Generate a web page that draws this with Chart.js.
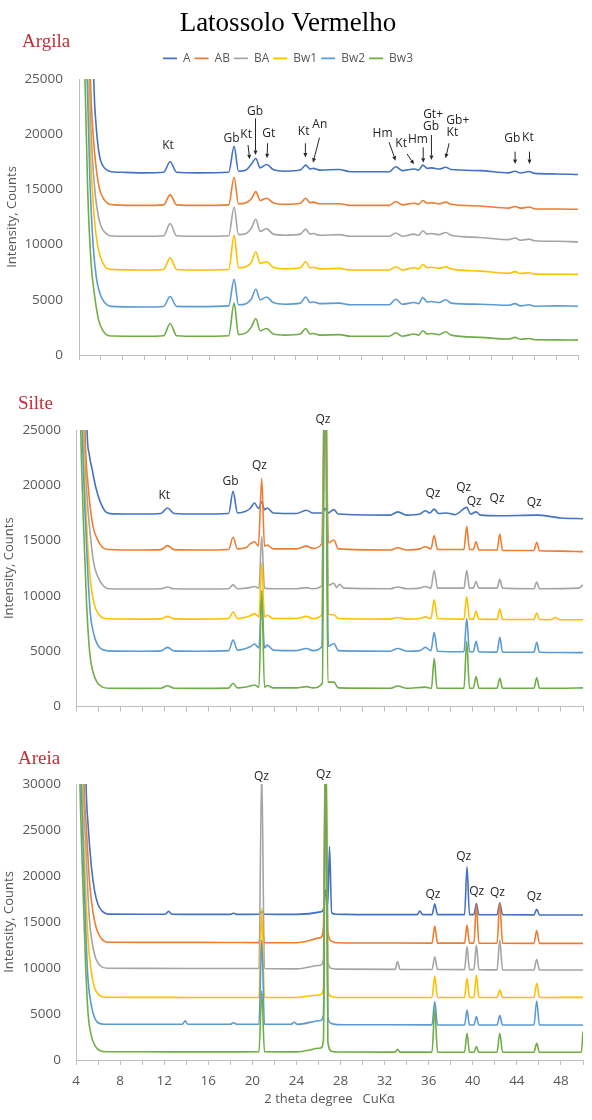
<!DOCTYPE html>
<html>
<head>
<meta charset="utf-8">
<title>Latossolo Vermelho</title>
<script src="https://cdn.jsdelivr.net/npm/chart.js@4.4.1/dist/chart.umd.min.js"></script>
<style>
  html, body { margin: 0; padding: 0; background: #fff; overflow: hidden; }
  #wrap { position: relative; width: 592px; height: 1120px; overflow: hidden; background: #fff; }
  canvas { position: absolute; }
</style>
</head>
<body>
<div id="wrap">
  <canvas id="argila" width="596" height="370" style="left:-10px; top:0px;"></canvas>
  <canvas id="silte" width="592" height="337" style="left:0px; top:385px;"></canvas>
  <canvas id="areia" width="592" height="385" style="left:0px; top:735px;"></canvas>
</div>
<script>
// Soil horizons (one trace each)
const horizons = ['A', 'AB', 'BA', 'Bw1', 'Bw2', 'Bw3'];

// Axis tick labels
const xTickLabels = [4, 8, 12, 16, 20, 24, 28, 32, 36, 40, 44, 48];
const yTickStep = 5000;
const yMaxFine = 25000;
const yMaxSand = 30000;

// ---------- Argila (clay fraction): [2theta, counts] ----------
const argilaA = [[5.1,40000],[5.36,25000],[5.6,20500],[5.9,18000],[6.3,17000],[6.8,16650],[8,16550],[10,16500],[11.8,16550],[12.4,17500],[13.0,16550],[15,16500],[17.8,16550],[18.3,18900],[18.7,16650],[19.4,16750],[19.9,17300],[20.3,17800],[20.7,16950],[21.3,17250],[21.9,16800],[23,16650],[24.4,16750],[24.9,17200],[25.3,16850],[25.6,16900],[26.2,16750],[28,16800],[29,16600],[32.6,16600],[33.2,17050],[33.8,16700],[34.9,16850],[35.3,16750],[35.7,17200],[36.1,16900],[36.5,16950],[37.2,16850],[37.8,17000],[38.3,16800],[41,16700],[43.6,16500],[44.2,16650],[44.7,16480],[45.5,16620],[46,16450],[48,16400],[50,16350]];
const argilaAB = [[4.8,40000],[5.06,25000],[5.3,20000],[5.6,16800],[5.9,15000],[6.3,14100],[6.7,13700],[7.2,13600],[10,13550],[11.8,13600],[12.4,14500],[13.0,13600],[15,13550],[17.8,13600],[18.3,16100],[18.7,13700],[19.4,13800],[19.9,14150],[20.3,14800],[20.7,14000],[21.3,14200],[21.9,13800],[23,13650],[24.4,13750],[24.9,14200],[25.3,13800],[25.6,13850],[26.2,13700],[28,13700],[29,13550],[32.6,13550],[33.2,13900],[33.8,13600],[34.9,13750],[35.3,13650],[35.7,14000],[36.1,13750],[36.5,13800],[37.2,13700],[37.8,13850],[38.3,13650],[41,13500],[43.6,13300],[44.2,13450],[44.7,13300],[45.5,13400],[46,13250],[48,13220],[50,13200]];
const argilaBA = [[4.7,40000],[4.95,25000],[5.2,18500],[5.5,14500],[5.8,12500],[6.1,11500],[6.5,11000],[7.0,10780],[10,10750],[11.8,10800],[12.4,11900],[13.0,10800],[15,10750],[17.8,10800],[18.3,13400],[18.7,10900],[19.4,11000],[19.9,11500],[20.3,12300],[20.7,11200],[21.3,11450],[21.9,10950],[23,10850],[24.4,10950],[24.9,11400],[25.3,10950],[25.6,11000],[26.2,10850],[28,10900],[29,10750],[32.6,10750],[33.2,11050],[33.8,10750],[34.9,10950],[35.3,10850],[35.7,11250],[36.1,10950],[36.5,11000],[37.2,10900],[37.8,11100],[38.3,10850],[41,10650],[43.6,10450],[44.2,10600],[44.7,10400],[45.5,10500],[46,10350],[48,10300],[50,10250]];
const argilaBw1 = [[4.6,40000],[4.85,25000],[5.1,17500],[5.4,12500],[5.7,10000],[6.0,8800],[6.4,8000],[6.9,7760],[10,7700],[11.8,7750],[12.4,8800],[13.0,7750],[15,7700],[17.8,7750],[18.3,10850],[18.7,7900],[19.4,8000],[19.9,8400],[20.3,9350],[20.7,8300],[21.3,8450],[21.9,7950],[23,7800],[24.4,7900],[24.9,8450],[25.3,7900],[25.6,7950],[26.2,7800],[28,7850],[29,7700],[32.6,7700],[33.2,8000],[33.8,7700],[34.9,7900],[35.3,7800],[35.7,8200],[36.1,7900],[36.5,7950],[37.2,7850],[37.8,8000],[38.3,7800],[41,7600],[43.6,7400],[44.2,7550],[44.7,7380],[45.5,7450],[46,7330],[48,7320],[50,7300]];
const argilaBw2 = [[4.5,40000],[4.75,25000],[5.0,16000],[5.3,10000],[5.6,7000],[5.95,5500],[6.4,4700],[6.9,4400],[10,4350],[11.8,4400],[12.4,5300],[13.0,4400],[15,4380],[17.8,4450],[18.3,6850],[18.7,4550],[19.4,4650],[19.9,5100],[20.3,5950],[20.7,5000],[21.3,5250],[21.9,4750],[23,4600],[24.4,4700],[24.9,5250],[25.3,4750],[25.6,4800],[26.2,4650],[28,4700],[29,4550],[32.6,4550],[33.2,5050],[33.8,4600],[34.9,4750],[35.3,4650],[35.7,5200],[36.1,4800],[36.5,4850],[37.2,4750],[37.8,5000],[38.3,4700],[41,4600],[43.6,4500],[44.2,4650],[44.7,4450],[45.5,4550],[46,4420],[48,4450],[50,4420]];
const argilaBw3 = [[4.3,40000],[4.55,25000],[4.8,15000],[5.1,8500],[5.45,5300],[5.8,3200],[6.2,2200],[6.6,1800],[7.0,1720],[10,1700],[11.8,1750],[12.4,2850],[13.0,1750],[15,1700],[17.8,1750],[18.3,4700],[18.7,1850],[19.4,2000],[19.9,2550],[20.3,3300],[20.7,2200],[21.3,2400],[21.9,1900],[23,1800],[24.4,1900],[24.9,2400],[25.3,1900],[25.6,1950],[26.2,1800],[28,1850],[29,1700],[32.6,1700],[33.2,2000],[33.8,1700],[34.9,1900],[35.3,1800],[35.7,2200],[36.1,1900],[36.5,1950],[37.2,1850],[37.8,2100],[38.3,1800],[41,1600],[43.6,1450],[44.2,1600],[44.7,1420],[45.5,1500],[46,1380],[48,1370],[50,1350]];

// ---------- Silte (silt fraction) ----------
const silteA = [[4.75,40000],[5.0,25000],[5.2,22800],[5.45,21500],[5.8,19800],[6.2,18500],[6.7,17600],[7.3,17420],[10,17400],[11.7,17450],[12.3,17950],[12.9,17450],[15,17400],[17.85,17450],[18.25,19450],[18.65,17500],[19.4,17650],[19.8,17900],[20.2,18400],[20.55,17900],[20.85,18500],[21.1,17800],[21.35,17950],[21.9,17500],[24,17450],[24.9,17750],[25.5,17500],[26.35,17500],[26.6,17900],[26.85,17500],[27.4,17800],[27.8,17400],[32.5,17300],[33.2,17600],[34,17300],[35.2,17400],[35.7,17700],[36.1,17500],[36.5,17850],[36.9,17450],[37.6,17500],[38.4,17350],[39.45,18000],[39.8,17400],[40.3,17600],[40.7,17300],[42.45,17250],[45.8,17300],[48,17050],[50,16980]];
const silteAB = [[4.6,40000],[4.82,25000],[5.1,20000],[5.5,16500],[5.9,15200],[6.4,14400],[7.0,14200],[10,14150],[11.7,14180],[12.3,14550],[12.9,14180],[15,14150],[17.85,14200],[18.25,15300],[18.65,14250],[19.4,14350],[19.8,14700],[20.2,14900],[20.55,14500],[20.85,20600],[21.1,14500],[21.35,14600],[21.9,14250],[24,14250],[24.9,14500],[25.5,14300],[26.3,14700],[26.6,32000],[26.9,14800],[27.4,15050],[27.8,14250],[32.5,14150],[33.2,14350],[34,14150],[35.2,14250],[35.7,14450],[36.2,14250],[36.5,15450],[36.8,14200],[39.2,14200],[39.45,16300],[39.7,14200],[40.05,14200],[40.3,14900],[40.55,14150],[42.2,14150],[42.45,15600],[42.7,14100],[45.55,14100],[45.8,14850],[46.05,14080],[48,14050],[50,14000]];
const silteBA = [[4.5,40000],[4.73,25000],[5.0,19000],[5.3,15500],[5.6,13000],[6.0,11700],[6.5,10900],[7.0,10650],[10,10620],[11.7,10640],[12.3,10800],[12.9,10640],[15,10620],[17.85,10650],[18.25,11000],[18.65,10650],[19.8,10750],[20.2,10850],[20.6,10700],[20.85,15400],[21.1,10700],[21.9,10650],[24,10650],[24.9,10750],[25.5,10650],[26.3,10900],[26.6,34000],[26.9,10950],[27.4,11150],[27.65,10750],[27.9,11050],[28.3,10700],[32.5,10650],[33.2,10800],[34,10650],[35.2,10700],[35.7,10850],[36.2,10700],[36.5,12300],[36.8,10700],[39.2,10700],[39.45,12300],[39.7,10700],[40.05,10700],[40.3,11300],[40.55,10700],[42.2,10700],[42.45,11500],[42.7,10700],[45.55,10650],[45.8,11250],[46.05,10650],[49.6,10700],[50,11000]];
const silteBw1 = [[4.45,40000],[4.66,25000],[4.9,18000],[5.2,12500],[5.5,10000],[5.8,8800],[6.3,8100],[6.9,7930],[10,7900],[11.7,7920],[12.3,8150],[12.9,7920],[15,7900],[17.85,7950],[18.25,8550],[18.65,7950],[19.8,8200],[20.2,8400],[20.6,8100],[20.85,12950],[21.1,8100],[21.35,8250],[21.9,7950],[24,7950],[24.9,8150],[25.5,7950],[26.3,8300],[26.6,33000],[26.9,8350],[27.4,8300],[27.8,7950],[32.5,7900],[33.2,8050],[34,7900],[35.2,7950],[35.7,8100],[36.2,7950],[36.5,9650],[36.8,7950],[39.2,7900],[39.45,9950],[39.7,7900],[40.05,7900],[40.3,8600],[40.55,7900],[42.2,7880],[42.45,8800],[42.7,7880],[45.55,7860],[45.8,8450],[46.05,7860],[47.1,7850],[47.5,8050],[47.9,7850],[50,7840]];
const silteBw2 = [[4.35,40000],[4.57,25000],[4.8,18000],[5.05,12500],[5.3,8400],[5.6,6600],[5.95,5600],[6.4,5150],[7.0,5030],[10,5000],[11.7,5030],[12.3,5350],[12.9,5030],[15,5000],[17.85,5050],[18.25,6000],[18.65,5100],[19.8,5400],[20.2,5650],[20.6,5300],[20.85,9800],[21.1,5300],[21.35,5550],[21.9,5100],[24,5050],[24.9,5250],[25.5,5050],[26.3,5400],[26.6,31000],[26.9,5450],[27.4,5700],[27.8,5050],[32.5,5000],[33.2,5250],[34,5000],[35.2,5050],[35.7,5350],[36.2,5050],[36.5,6700],[36.8,5000],[39.2,4950],[39.45,7950],[39.7,4950],[40.05,4950],[40.3,5900],[40.55,4950],[42.2,4920],[42.45,6250],[42.7,4920],[45.55,4900],[45.8,5800],[46.05,4900],[48,4880],[50,4870]];
const silteBw3 = [[4.2,40000],[4.43,25000],[4.7,16000],[4.95,9500],[5.25,4800],[5.55,3100],[5.9,2200],[6.4,1750],[7.0,1650],[10,1640],[11.7,1650],[12.3,1880],[12.9,1650],[15,1640],[17.85,1660],[18.25,2100],[18.65,1680],[19.8,1850],[20.2,1950],[20.6,1750],[20.85,10500],[21.1,1750],[21.35,1900],[21.9,1680],[24,1680],[24.9,1800],[25.5,1680],[26.35,2100],[26.6,36000],[26.85,2200],[27.4,2200],[27.8,1680],[32.5,1650],[33.2,1850],[34,1650],[35.7,1750],[36.25,1650],[36.5,4350],[36.75,1650],[39.2,1650],[39.45,5900],[39.7,1650],[40.05,1650],[40.3,2700],[40.55,1650],[42.2,1650],[42.45,2550],[42.7,1650],[45.55,1650],[45.8,2600],[46.05,1650],[48,1650],[50,1680]];

// ---------- Areia (sand fraction) ----------
const areiaA = [[4.7,45000],[4.91,30000],[5.1,25500],[5.4,21000],[5.7,18300],[6.0,16900],[6.4,16150],[6.9,15860],[10,15850],[12.1,15850],[12.4,16150],[12.7,15850],[15,15830],[18,15830],[18.3,15950],[18.6,15830],[20.6,15850],[20.85,16150],[21.1,15850],[24,15830],[26.2,16100],[26.5,16600],[26.65,18500],[26.85,16900],[27.0,23200],[27.2,16000],[27.6,15850],[30,15800],[34.95,15800],[35.2,16200],[35.45,15800],[36.3,15800],[36.55,16950],[36.8,15800],[39.25,15800],[39.48,21000],[39.7,15800],[40.1,15800],[40.33,17000],[40.55,15800],[42.2,15780],[42.45,17100],[42.7,15780],[45.55,15770],[45.8,16380],[46.05,15770],[50,15760]];
const areiaAB = [[4.5,45000],[4.73,30000],[4.95,25000],[5.25,19000],[5.55,16000],[5.85,14300],[6.3,13200],[6.9,12800],[10,12790],[15,12780],[18,12770],[20.6,12760],[20.85,15000],[21.1,12760],[24,12750],[26.2,13300],[26.45,14500],[26.65,36000],[26.85,14000],[27.2,12900],[27.6,12750],[30,12720],[36.3,12700],[36.55,14570],[36.8,12700],[39.25,12700],[39.48,14670],[39.7,12700],[40.1,12700],[40.33,16850],[40.55,12700],[42.2,12690],[42.45,17100],[42.7,12690],[45.55,12680],[45.8,14060],[46.05,12680],[50,12680]];
const areiaBA = [[4.45,45000],[4.66,30000],[4.9,23000],[5.2,15500],[5.5,12500],[5.8,11000],[6.2,10250],[6.8,9970],[10,9960],[15,9950],[18,9940],[20.6,9950],[20.85,31500],[21.1,9950],[24,9900],[26.2,10300],[26.45,10900],[26.65,38000],[26.85,10600],[27.2,9950],[27.6,9880],[32.95,9850],[33.17,10700],[33.4,9850],[36.3,9830],[36.55,11230],[36.8,9830],[39.25,9820],[39.48,12320],[39.7,9820],[40.1,9820],[40.33,12500],[40.55,9820],[42.2,9800],[42.45,13040],[42.7,9800],[45.55,9790],[45.8,10950],[46.05,9790],[50,9780]];
const areiaBw1 = [[4.35,45000],[4.57,30000],[4.8,21000],[5.1,13000],[5.4,9500],[5.7,7800],[6.1,7050],[6.7,6820],[10,6810],[15,6800],[18,6800],[20.6,6810],[20.85,16500],[21.1,6810],[24,6800],[26.2,7100],[26.45,7700],[26.65,35000],[26.85,7500],[27.2,6900],[27.6,6800],[30,6800],[36.3,6800],[36.55,9130],[36.8,6800],[39.25,6800],[39.48,8880],[39.7,6800],[40.1,6800],[40.33,9240],[40.55,6800],[42.2,6800],[42.45,7610],[42.7,6800],[45.55,6800],[45.8,8340],[46.05,6800],[50,6810]];
const areiaBw2 = [[4.25,45000],[4.48,30000],[4.75,19000],[5.05,9500],[5.35,6200],[5.65,4700],[6.0,4050],[6.6,3880],[10,3880],[13.65,3880],[13.9,4250],[14.15,3880],[18,3880],[18.3,4050],[18.6,3880],[20.6,3880],[20.85,13000],[21.1,3880],[23.5,3880],[23.8,4100],[24.1,3870],[26.2,4300],[26.45,4900],[26.65,34000],[26.85,4600],[27.2,3950],[27.6,3850],[30,3830],[36.3,3820],[36.55,6340],[36.8,3820],[39.25,3810],[39.48,5430],[39.7,3810],[40.1,3810],[40.33,4710],[40.55,3810],[42.2,3800],[42.45,4820],[42.7,3800],[45.55,3800],[45.8,6410],[46.05,3800],[50,3800]];
const areiaBw3 = [[4.15,45000],[4.36,30000],[4.6,20000],[4.85,11000],[5.1,5000],[5.4,2600],[5.75,1500],[6.2,1000],[6.8,900],[10,890],[15,880],[18,880],[20.6,890],[20.85,7500],[21.1,890],[24,880],[26.2,1300],[26.45,2200],[26.65,40000],[26.85,2000],[27.2,950],[27.6,870],[32.95,860],[33.17,1150],[33.4,860],[36.3,860],[36.55,5500],[36.8,860],[39.25,850],[39.48,2900],[39.7,850],[40.1,850],[40.33,1450],[40.55,850],[42.2,850],[42.45,2900],[42.7,850],[45.55,845],[45.8,1810],[46.05,845],[49.85,840],[50,3080]];

// ---------- Mineral labels: [text, 2theta, counts] and arrows: [2theta, counts, 2theta, counts] ----------
const argilaMarks = [['Kt',12.2,19000],['Gb',18.07,19630],['Kt',19.41,19930],['Gb',20.23,22040],['Gt',21.49,20080],
  ['Kt',24.71,20230],['An',26.2,20880],['Hm',31.98,20020],['Kt',33.7,19180],['Hm',35.25,19540],
  ['Gt+',36.64,21740],['Gb',36.45,20680],['Gb+',38.92,21200],['Kt',38.42,20170],['Gb',43.94,19570],['Kt',45.38,19680]];
const argilaArrows = [[19.58,19020,19.73,17730],[20.27,21440,20.27,18120],[21.39,19180,21.33,17820],
  [24.87,19180,24.87,17900],[26.17,19680,25.57,17420],[32.58,19270,33.19,17600],[34.25,18210,34.88,17270],
  [35.73,18810,35.73,17420],[36.49,19930,36.49,17660],[38.12,19180,37.79,17820],[44.2,18420,44.2,17300],[45.53,18420,45.53,17300]];
const silteMarks = [['Kt',12.01,19100],['Gb',18.03,20310],['Qz',20.64,21790],['Qz',26.4,25950],
  ['Qz',36.38,19250],['Qz',39.18,19820],['Qz',40.12,18550],['Qz',42.2,18800],['Qz',45.57,18460]];
const areiaMarks = [['Qz',20.83,30800],['Qz',26.46,31050],['Qz',36.38,18010],['Qz',39.18,22100],
  ['Qz',40.36,18300],['Qz',42.24,18230],['Qz',45.57,17750]];

// Line colours per horizon
const colors = ['#4472C4', '#ED7D31', '#A5A5A5', '#FFC000', '#5B9BD5', '#70AD47'];
const axisGray = '#BFBFBF';
const textGray = '#595959';

Chart.defaults.font.family = '"Open Sans", "DejaVu Sans", sans-serif';

// Draws mineral labels, arrows and the fraction name of each panel
function mineralMarks(marks, arrows, panel) {
  return {
    id: 'mineralMarks',
    afterDatasetsDraw(chart) {
      const { ctx } = chart;
      const xs = chart.scales.x, ys = chart.scales.y;
      ctx.save();
      ctx.fillStyle = '#262626';
      ctx.strokeStyle = '#262626';
      ctx.font = '12px "Open Sans"';
      ctx.textAlign = 'center';
      ctx.textBaseline = 'middle';
      marks.forEach(([t, a, b]) => ctx.fillText(t, xs.getPixelForValue(a), ys.getPixelForValue(b)));
      ctx.lineWidth = 1;
      arrows.forEach(([a1, b1, a2, b2]) => {
        const x1 = xs.getPixelForValue(a1), y1 = ys.getPixelForValue(b1);
        const x2 = xs.getPixelForValue(a2), y2 = ys.getPixelForValue(b2);
        const ang = Math.atan2(y2 - y1, x2 - x1);
        const head = 4.5, half = 2;
        const bx = x2 - head * Math.cos(ang), by = y2 - head * Math.sin(ang);
        ctx.beginPath(); ctx.moveTo(x1, y1); ctx.lineTo(bx, by); ctx.stroke();
        ctx.beginPath();
        ctx.moveTo(x2, y2);
        ctx.lineTo(bx + half * Math.sin(ang), by - half * Math.cos(ang));
        ctx.lineTo(bx - half * Math.sin(ang), by + half * Math.cos(ang));
        ctx.closePath(); ctx.fill();
      });
      ctx.font = '19px "Liberation Serif", "Times New Roman", serif';
      ctx.fillStyle = '#C0303A';
      ctx.textAlign = 'left';
      ctx.textBaseline = 'alphabetic';
      ctx.fillText(panel.text, panel.x, panel.y);
      ctx.restore();
    }
  };
}

// Stretches the legend box so the plot starts at the right height
const legendSpacer = {
  id: 'legendSpacer',
  beforeInit(chart) {
    if (!chart.legend) return;
    const fit = chart.legend.fit;
    chart.legend.fit = function () {
      fit.call(this);
      this.height = 30.6;
    };
  }
};

function xrdChart(id, series, o) {
  const datasets = series.map((pts, i) => ({
    label: horizons[i],
    data: pts,
    borderColor: colors[i],
    backgroundColor: colors[i],
    borderWidth: 1.6,
    pointRadius: 0,
    pointHoverRadius: 0,
    cubicInterpolationMode: 'monotone',
    fill: false,
    order: series.length - 1 - i
  }));
  const plugins = [mineralMarks(o.marks, o.arrows, o.panel)];
  if (o.legend) plugins.push(legendSpacer);
  return new Chart(document.getElementById(id), {
    type: 'line',
    data: { datasets },
    options: {
      responsive: false,
      animation: false,
      events: [],
      layout: { padding: o.padding, autoPadding: false },
      plugins: {
        tooltip: { enabled: false },
        title: o.legend ? {
          display: true,
          text: 'Latossolo Vermelho',
          color: '#000',
          font: { family: '"Liberation Serif", "Times New Roman", serif', size: 27, weight: 'normal' },
          padding: { top: 8, bottom: 8 }
        } : { display: false },
        legend: o.legend ? {
          display: true,
          position: 'top',
          labels: {
            usePointStyle: true,
            pointStyle: 'line',
            pointStyleWidth: 14,
            padding: 4,
            color: textGray,
            font: { size: 12 },
            sort: (a, b) => a.datasetIndex - b.datasetIndex
          }
        } : { display: false }
      },
      scales: {
        x: {
          type: 'linear',
          min: 4,
          max: 50,
          afterFit: (s) => { s.height = o.xHeight; },
          ticks: {
            stepSize: 2,
            autoSkip: false,
            maxRotation: 0,
            padding: 8,
            color: textGray,
            font: { size: 13.5 },
            callback: (v) => (o.xLabels && xTickLabels.includes(Math.round(v))) ? String(Math.round(v)) : ''
          },
          grid: { display: true, drawOnChartArea: false, drawTicks: true, tickLength: 5, color: axisGray },
          border: { display: true, color: axisGray, width: 1 },
          title: o.xLabels ? {
            display: true,
            text: '2 theta degree   CuK\u03B1',
            color: textGray,
            font: { size: 13 },
            padding: { top: 0, bottom: 13 }
          } : { display: false }
        },
        y: {
          min: 0,
          max: o.yMax,
          afterFit: (s) => { s.width = o.yWidth; },
          ticks: {
            stepSize: yTickStep,
            padding: 3,
            color: textGray,
            font: { size: 13.5 },
            callback: (v) => String(v)
          },
          // invisible tick marks keep the labels clear of the axis line
          grid: { display: true, drawOnChartArea: false, drawTicks: true, tickLength: o.yGap, color: 'rgba(0,0,0,0)' },
          border: { display: true, color: axisGray, width: 1 },
          title: {
            display: true,
            text: 'Intensity, Counts',
            color: textGray,
            font: { size: 13 },
            padding: { top: o.yTitlePad, bottom: 0 }
          }
        }
      }
    },
    plugins
  });
}

xrdChart('argila', [argilaA, argilaAB, argilaBA, argilaBw1, argilaBw2, argilaBw3], {
  legend: true, xLabels: false, yMax: yMaxFine,
  padding: { top: 0, right: 0, bottom: 0, left: 0 },
  xHeight: 15, yWidth: 89, yGap: 13, yTitlePad: 14.2,
  marks: argilaMarks, arrows: argilaArrows,
  panel: { text: 'Argila', x: 32, y: 46.5 }
});

xrdChart('silte', [silteA, silteAB, silteBA, silteBw1, silteBw2, silteBw3], {
  legend: false, xLabels: false, yMax: yMaxFine,
  padding: { top: 45, right: 9, bottom: 0, left: 0 },
  xHeight: 15.5, yWidth: 76, yGap: 12, yTitlePad: 1.2,
  marks: silteMarks, arrows: [],
  panel: { text: 'Silte', x: 18, y: 24 }
});

xrdChart('areia', [areiaA, areiaAB, areiaBA, areiaBw1, areiaBw2, areiaBw3], {
  legend: false, xLabels: true, yMax: yMaxSand,
  padding: { top: 49, right: 9, bottom: 0, left: 0 },
  xHeight: 60, yWidth: 76, yGap: 12, yTitlePad: 1.2,
  marks: areiaMarks, arrows: [],
  panel: { text: 'Areia', x: 18, y: 28.5 }
});
</script>
</body>
</html>
